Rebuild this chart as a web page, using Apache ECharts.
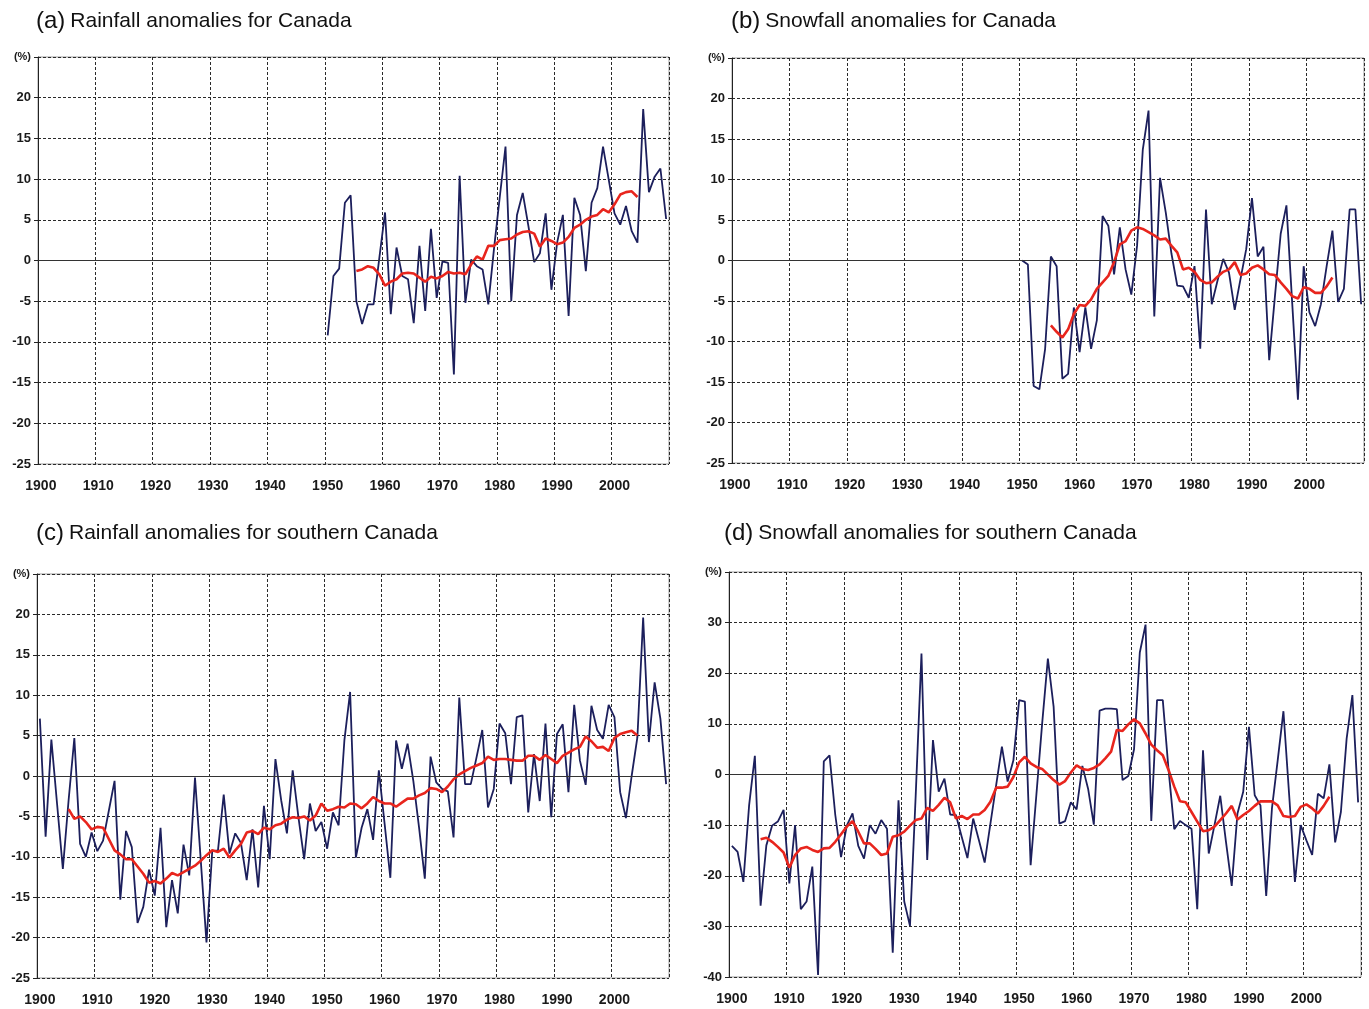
<!DOCTYPE html>
<html>
<head>
<meta charset="utf-8">
<script src="https://cdn.jsdelivr.net/npm/echarts@6/dist/echarts.min.js"></script>
<style>
  html, body { margin: 0; padding: 0; background: #fff; }
  #chart { width: 1369px; height: 1009px; }
</style>
</head>
<body>
<div id="chart"></div>
<script>
// ---------- DATA ----------
const yearStart = 1900, yearEnd = 2009;
const yearTicks = ['1900','1910','1920','1930','1940','1950','1960','1970','1980','1990','2000'];

// (a) Rainfall anomalies for Canada (1950-2009), 11-yr mean 1955-2004
const aStart = 1950;
const aValues = [-9.2, -1.9, -1.0, 7.1, 8.0, -5.0, -7.8, -5.4, -5.4, 0.3,
  5.9, -6.6, 1.6, -1.9, -2.3, -7.7, 1.8, -6.2, 3.9, -4.6,
  -0.1, -0.3, -14.0, 10.4, -5.2, 0.1, -0.7, -1.1, -5.4, 1.5,
  7.8, 14.0, -5.0, 5.6, 8.3, 4.2, -0.2, 0.9, 5.8, -3.6,
  2.2, 5.6, -6.8, 7.7, 5.6, -1.3, 7.1, 8.9, 14.0, 9.9,
  5.8, 4.4, 6.7, 3.6, 2.2, 18.6, 8.4, 10.3, 11.3, 5.1];
const aMeanStart = 1955;
const aMean = [-1.3, -1.1, -0.7, -0.9, -1.7,
  -3.1, -2.6, -2.3, -1.6, -1.5, -1.6, -2.1, -2.6, -2.0, -2.2,
  -1.9, -1.4, -1.6, -1.5, -1.7, -0.5, 0.5, 0.1, 1.8, 1.8,
  2.5, 2.6, 2.7, 3.2, 3.5, 3.6, 3.3, 1.7, 2.7, 2.4,
  2.0, 2.2, 2.9, 4.0, 4.4, 5.0, 5.4, 5.6, 6.3, 5.9,
  6.9, 8.1, 8.4, 8.5, 7.8];

// (b) Snowfall anomalies for Canada
const bStart = 1950;
const bValues = [0.0, -0.5, -15.5, -15.9, -10.9, 0.5, -0.7, -14.6, -14.0, -5.8,
  -11.3, -5.8, -10.9, -7.4, 5.5, 4.3, -1.7, 4.1, -1.1, -4.2,
  1.8, 13.7, 18.5, -6.9, 10.2, 5.9, 0.8, -3.1, -3.2, -4.6,
  -0.7, -10.9, 6.3, -5.4, -2.5, 0.2, -1.5, -6.1, -2.3, 1.4,
  7.7, 0.5, 1.7, -12.3, -4.4, 3.3, 6.8, -5.2, -17.2, -0.7,
  -6.4, -8.1, -5.4, -0.7, 3.7, -5.1, -3.5, 6.3, 6.3, -5.4];
const bMeanStart = 1955;
const bMean = [-8.0, -8.8, -9.5, -8.5, -6.6,
  -5.5, -5.6, -4.8, -3.5, -2.7, -1.9, -0.2, 2.0, 2.4, 3.7,
  4.1, 3.9, 3.5, 3.1, 2.6, 2.7, 1.8, 1.0, -1.1, -0.9,
  -1.4, -2.4, -2.8, -2.7, -2.0, -1.4, -1.1, -0.2, -1.8, -1.6,
  -0.9, -0.6, -1.1, -1.7, -1.8, -2.7, -3.5, -4.4, -4.7, -3.3,
  -3.5, -4.0, -4.0, -3.2, -2.1];

// (c) Rainfall anomalies for southern Canada
const cStart = 1900;
const cValues = [7.1, -7.5, 4.5, -3.5, -11.5, -3.0, 4.7, -8.4, -10.0, -7.0,
  -9.3, -8.0, -4.3, -0.6, -15.3, -6.8, -8.8, -18.2, -16.2, -11.6,
  -14.8, -6.4, -18.7, -12.9, -17.0, -8.5, -12.3, -0.2, -10.4, -20.6,
  -9.3, -9.2, -2.3, -9.6, -7.1, -8.3, -12.9, -6.6, -13.8, -3.7,
  -10.3, 2.1, -3.0, -7.1, 0.7, -5.1, -10.3, -3.4, -6.8, -5.7,
  -9.0, -4.5, -6.1, 4.4, 10.4, -10.1, -6.4, -4.1, -7.9, 0.7,
  -5.9, -12.6, 4.4, 0.9, 4.0, -0.6, -6.4, -12.7, 2.4, -0.8,
  -1.6, -1.9, -7.6, 9.7, -1.0, -1.0, 2.3, 5.7, -3.9, -1.6,
  6.5, 5.3, -1.0, 7.3, 7.5, -4.5, 2.7, -3.1, 6.5, -5.1,
  5.2, 6.4, -2.0, 8.8, 1.9, -1.1, 8.7, 5.7, 4.6, 8.8,
  7.3, -2.0, -5.2, 0.0, 4.8, 19.6, 4.2, 11.6, 7.1, -1.0];
const cMeanStart = 1905;
const cMean = [-4.1, -5.3, -5.0, -5.7, -6.6,
  -6.3, -6.4, -7.8, -9.2, -9.7, -10.3, -10.3, -11.2, -12.1, -13.2,
  -13.0, -13.3, -12.7, -12.0, -12.3, -11.9, -11.5, -11.1, -10.5, -9.8,
  -9.2, -9.4, -9.0, -10.1, -9.2, -8.4, -7.0, -6.8, -7.2, -6.4,
  -6.6, -6.1, -5.9, -5.4, -5.1, -5.2, -5.0, -5.5, -4.9, -3.4,
  -4.3, -4.1, -3.8, -3.9, -3.4, -3.5, -4.0, -3.4, -2.6, -3.1,
  -3.4, -3.4, -3.8, -3.3, -2.8, -2.8, -2.4, -2.1, -1.5, -1.6,
  -2.0, -1.3, -0.4, 0.2, 0.6, 1.0, 1.3, 1.6, 2.4, 2.0,
  2.1, 2.1, 2.0, 1.9, 1.9, 2.5, 2.5, 2.0, 2.6, 2.1,
  1.6, 2.5, 2.9, 3.3, 3.6, 4.9, 4.3, 3.5, 3.6, 3.1,
  4.7, 5.2, 5.4, 5.6, 5.0];

// (d) Snowfall anomalies for southern Canada
const dStart = 1900;
const dValues = [-14.1, -15.3, -21.2, -6.1, 3.7, -25.9, -14.0, -10.1, -9.3, -7.0,
  -21.5, -10.0, -26.6, -25.1, -18.2, -39.6, 2.6, 3.8, -8.0, -16.3,
  -10.1, -7.7, -14.1, -16.6, -10.0, -11.7, -9.0, -10.7, -35.2, -5.1,
  -25.1, -29.9, -4.0, 23.9, -16.9, 6.8, -3.4, -0.8, -7.9, -8.0,
  -12.3, -16.5, -8.7, -13.0, -17.4, -9.7, -2.1, 5.5, -1.4, 2.8,
  14.7, 14.4, -17.9, -4.0, 10.0, 22.9, 13.4, -9.7, -9.2, -5.5,
  -6.9, 1.7, -2.8, -9.9, 12.6, 13.0, 13.0, 12.9, -1.1, -0.3,
  5.0, 24.1, 29.6, -9.2, 14.7, 14.7, 1.0, -10.8, -9.2, -10.0,
  -10.7, -26.6, 4.8, -15.6, -10.0, -4.2, -13.3, -22.0, -7.7, -3.4,
  9.4, -4.1, -6.1, -24.0, -6.7, 2.8, 12.5, -4.1, -21.2, -10.0,
  -13.0, -15.9, -3.8, -4.7, 2.0, -13.4, -7.4, 7.1, 15.7, -5.5];
const dMeanStart = 1905;
const dMean = [-12.8, -12.5, -13.3, -14.3, -15.4,
  -18.4, -15.9, -14.6, -14.3, -14.9, -15.3, -14.6, -14.5, -13.3, -11.8,
  -10.3, -9.2, -11.3, -13.6, -13.6, -14.7, -15.9, -15.6, -12.3, -12.0,
  -11.3, -10.1, -9.0, -8.7, -6.6, -7.2, -6.0, -4.6, -5.5, -8.7,
  -8.2, -8.8, -7.9, -7.9, -7.0, -5.4, -2.6, -2.6, -2.4, -0.5,
  2.4, 3.5, 2.2, 1.5, 1.1, 0.0, -1.1, -2.0, -1.3, 0.4,
  1.8, 1.1, 0.9, 1.3, 2.0, 3.2, 4.5, 8.8, 8.6, 9.9,
  10.9, 10.1, 8.1, 5.9, 4.8, 3.8, 0.9, -2.4, -5.3, -5.5,
  -7.4, -9.3, -11.2, -11.0, -10.3, -9.0, -7.7, -6.2, -8.9, -8.0,
  -7.2, -6.2, -5.3, -5.3, -5.3, -6.1, -8.2, -8.4, -8.2, -6.4,
  -5.9, -6.7, -7.7, -6.2, -4.4];

const titles = [
  ['(a)', 'Rainfall anomalies for Canada'],
  ['(b)', 'Snowfall anomalies for Canada'],
  ['(c)', 'Rainfall anomalies for southern Canada'],
  ['(d)', 'Snowfall anomalies for southern Canada']
];
const unitLabel = '(%)';

// ---------- BUILD ----------
const years = [];
for (let y = yearStart; y <= yearEnd; y++) years.push(String(y));
function place(start, vals) {
  const out = years.map(() => null);
  vals.forEach((v, i) => { out[start - yearStart + i] = v; });
  return out;
}

const FONT = 'Liberation Sans, Arial, Helvetica, sans-serif';
const BLUE = '#1c1f5c';
const RED = '#e8251d';

const grids = [
  { left: 38, top: 57, width: 631, height: 407 },
  { left: 732, top: 58, width: 632, height: 405 },
  { left: 37, top: 574, width: 632, height: 404 },
  { left: 729, top: 572, width: 632, height: 405 }
];
const yRanges = [[-25, 25, 5], [-25, 25, 5], [-25, 25, 5], [-40, 40, 10]];
const titlePos = [[36, 9], [731, 9], [36, 521], [724, 521]];

const option = {
  animation: false,
  backgroundColor: '#fff',
  textStyle: { fontFamily: FONT },
  title: titles.map((t, i) => ({
    left: titlePos[i][0], top: titlePos[i][1], padding: 0,
    text: '{p|' + t[0] + '} {t|' + t[1] + '}',
    textStyle: {
      fontFamily: FONT, fontWeight: 'normal', color: '#111',
      rich: {
        p: { fontSize: 24, fontFamily: FONT, color: '#111' },
        t: { fontSize: 21, fontFamily: FONT, color: '#111' }
      }
    }
  })),
  grid: grids.map(g => Object.assign({ show: true, borderColor: '#9a9a9a', borderWidth: 1, backgroundColor: '#fff' }, g)),
  xAxis: grids.map((g, i) => ({
    type: 'category', gridIndex: i, data: years, boundaryGap: true,
    axisLine: { show: true, lineStyle: { color: '#222', width: 1 } },
    axisTick: { show: false },
    axisLabel: {
      interval: (idx, val) => yearTicks.indexOf(val) >= 0,
      fontSize: 14, fontWeight: 'bold', color: '#1a1a1a', margin: 15, fontFamily: FONT
    },
    splitLine: {
      show: true,
      interval: (idx, val) => yearTicks.indexOf(val) >= 0,
      lineStyle: { color: '#2a2a2a', type: [3, 2], width: 1 }
    }
  })),
  yAxis: grids.map((g, i) => ({
    type: 'value', gridIndex: i,
    min: yRanges[i][0], max: yRanges[i][1], interval: yRanges[i][2],
    axisLine: { show: true, lineStyle: { color: '#222', width: 1 } },
    axisTick: { show: true, length: 4, lineStyle: { color: '#222' } },
    axisLabel: {
      fontSize: 13, fontWeight: 'bold', color: '#1a1a1a', margin: 7, fontFamily: FONT,
      formatter: v => (v === yRanges[i][1] ? '{u|' + unitLabel + '}' : String(v)),
      rich: { u: { fontSize: 11, fontWeight: 'bold', color: '#1a1a1a', fontFamily: FONT } }
    },
    splitLine: { show: true, lineStyle: { color: '#2a2a2a', type: [3, 2], width: 1 } }
  })),
  series: []
};

const sets = [
  [aStart, aValues, aMeanStart, aMean],
  [bStart, bValues, bMeanStart, bMean],
  [cStart, cValues, cMeanStart, cMean],
  [dStart, dValues, dMeanStart, dMean]
];
sets.forEach((s, i) => {
  option.series.push({
    type: 'line', xAxisIndex: i, yAxisIndex: i,
    data: place(s[0], s[1]), showSymbol: false, symbol: 'none',
    lineStyle: { color: BLUE, width: 1.8 }, z: 3,
    markLine: {
      silent: true, symbol: 'none', label: { show: false },
      lineStyle: { color: '#333', type: 'solid', width: 1 },
      data: [{ yAxis: 0 }]
    }
  });
  option.series.push({
    type: 'line', xAxisIndex: i, yAxisIndex: i,
    data: place(s[2], s[3]), showSymbol: false, symbol: 'none',
    lineStyle: { color: RED, width: 2.6 }, z: 4
  });
});

const chart = echarts.init(document.getElementById('chart'), null, { renderer: 'canvas' });
chart.setOption(option);
</script>
</body>
</html>
